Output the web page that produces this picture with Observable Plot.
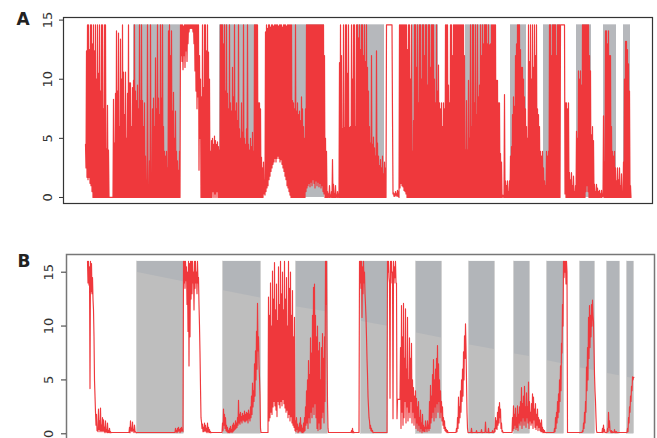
<!DOCTYPE html>
<html><head><meta charset="utf-8">
<script src="https://cdn.jsdelivr.net/npm/d3@7"></script>
<script src="https://cdn.jsdelivr.net/npm/@observablehq/plot@0.6"></script>
<style>
html,body{margin:0;padding:0;background:#fff;}
#wrap{position:relative;width:657px;height:438px;overflow:hidden;}
#pa,#pb{position:absolute;left:0;}
#pa{top:0px}
#pb{top:240px}
</style></head>
<body><div id="wrap"><div id="pa"></div><div id="pb"></div></div>
<script>
// y tick labels shared by both panels
const yTicks = [0, 5, 10, 15];
// shaded (gray) time windows, same in both panels (time index units)
const grayStart = [70, 156, 229, 294, 349, 402, 447, 480, 513, 540, 560];
const grayEnd   = [117, 194, 261, 321, 375, 428, 463, 497, 528, 553, 567];
// panel B: height of the lighter gray band at the start / end of each window
const lightTopStart = [15.0, 13.3, 11.8, 10.45, 9.37, 8.26, 7.42, 6.8, 6.12, 5.62, 5.25];
const lightTopEnd   = [14.1, 12.6, 11.3, 9.98, 8.9, 7.82, 7.17, 6.49, 5.87, 5.38, 5.13];

// panel A series: per time step [max, min] starting at aStart
const aStart = 22;
const aSpans = [
// 22
[4.5,2.5],[12.4,1.7],[14.6,1.5],[14.6,1.7],[12.5,1.2],[14.6,1],[14.6,.5],[13,0],[14.6,0],[12.4,0],
// 32
[14.6,0],[10,0],[14.6,0],[10.5,0],[14.6,0],[9,0],[14.6,0],[14.6,0],[7.5,0],[14.6,0],
// 42
[14.6,0],[4.1,0],[7.8,0],[4,0],[0,0],[0,0],[0,0],[0,0],[8.3,0],[4.6,0],
// 52
[8.8,0],[14.1,0],[9,0],[13.9,0],[6,0],[13.4,0],[10,0],[14.6,0],[10.6,0],[7,0],
// 62
[10.6,0],[5,0],[8.8,0],[14.6,0],[9.7,0],[9.7,0],[6,0],[9.3,0],[9.9,0],[14.6,0],
// 72
[9,0],[8.2,0],[9.5,0],[7.5,0],[14.6,0],[8.2,0],[14.6,0],[8.2,0],[6,0],[8,0],
// 82
[3.5,0],[1.5,0],[14.6,0],[1,0],[3.1,0],[14.6,0],[2,0],[7.5,0],[8.4,0],[6,0],
// 92
[11.8,0],[7.5,0],[14.6,0],[8.4,0],[7,0],[14.6,0],[8.4,0],[14.6,0],[6,0],[3.9,0],
// 102
[3.5,0],[3.9,0],[2.5,0],[14.1,0],[14.6,0],[12,0],[14.1,0],[7.3,0],[8.9,0],[5,0],
// 112
[7.3,0],[3.9,0],[3.1,0],[2.3,0],[3.9,0],[14.6,12],[14.6,11.5],[14.6,10.8],[14.5,12],[14.6,11],
// 122
[14.6,12.4],[14.6,11.5],[14.6,13],[14.6,14],[14.6,14.3],[14.6,14.3],[14.6,14.3],[14.6,14],[14.6,13],[14.6,10.7],
// 132
[14.6,9],[14.6,7.5],[14.6,8.5],[14.6,2.3],[12,5],[10,0],[8.5,0],[14.6,0],[9.3,0],[14.6,0],
// 142
[14.6,0],[12.4,0],[14.6,0],[12.3,0],[10,0],[3.9,0],[4.8,0],[5,.5],[4.5,0],[5.2,.3],
// 152
[4.8,0],[4.5,.5],[4.7,0],[4.3,0],[4,0],[14.6,0],[14.6,0],[14.6,0],[13,0],[14.6,0],
// 162
[9,0],[14.6,0],[8.8,0],[7.5,0],[14.6,0],[8,0],[7.3,0],[11,0],[8.5,0],[14.6,0],
// 172
[7.3,0],[8,0],[6.5,0],[14.6,0],[5.8,0],[5,0],[8,0],[5.5,0],[14.6,0],[5,0],
// 182
[4.5,0],[5.8,0],[14.6,0],[4.5,0],[4,0],[5,0],[4.3,0],[5.5,0],[3.9,0],[14.6,0],
// 192
[14.6,0],[14.6,0],[14.6,0],[8,0],[8,0],[7.5,0],[3.4,0],[2.5,0],[3,.3],[1.5,.2],
// 202
[14,.5],[14.6,.8],[14.3,1],[14.6,1.5],[14.6,1.8],[14.4,2.2],[14.6,2.5],[14.6,2.8],[14.5,3],[14.6,3.3],
// 212
[14.6,3],[14.6,3.3],[14.6,3.5],[14.5,3.3],[14.6,3],[14.6,3.2],[14.6,2.8],[14.4,2.5],[14.6,2.2],[14.6,1.8],
// 222
[14.6,1.5],[14.5,1],[14.6,.8],[14.6,.5],[14.6,.2],[14.6,0],[14.6,0],[8.2,0],[8,0],[7.5,0],
// 232
[14.6,0],[7.3,0],[8,0],[7,0],[7.3,0],[6.5,0],[8.5,0],[7.5,0],[6,0],[5,0],
// 242
[7.5,.5],[14.6,.8],[14.6,1],[14.6,1.2],[14.6,.9],[14.6,1.3],[14.6,1],[14.6,1.5],[14.6,1.2],[14.6,.8],
// 252
[14.6,1.4],[14.6,1],[14.6,1.3],[14.6,.9],[14.6,1.2],[14.6,.8],[14.6,1],[14.6,.5],[14.6,.3],[12,0],
// 262
[5,0],[3.9,0],[.5,0],[.3,0],[1,0],[.2,0],[.5,0],[3.2,0],[1.1,0],[.3,0],
// 272
[1,0],[.2,0],[.5,0],[.3,0],[11.4,0],[14.6,0],[12,0],[5.8,0],[14.6,0],[5.9,0],
// 282
[14.6,0],[14.6,0],[10.5,0],[14.6,0],[5.9,0],[6,0],[14.6,0],[10,0],[14.6,0],[14.6,0],
// 292
[6,0],[14.6,0],[14.6,0],[13.5,0],[14.6,0],[12.5,0],[14.6,0],[14.6,0],[12,0],[14.6,0],
// 302
[11.5,0],[14.6,0],[11,0],[9,0],[6,0],[4.6,0],[12,0],[4.5,0],[5.1,0],[4.2,0],
// 312
[3.5,0],[12.4,0],[4.6,0],[3.5,0],[2.7,0],[3.2,0],[2.5,0],[3.5,0],[2,0],[3,0],
// 322
[2.5,0],[14.6,14.6],[14.6,14.6],[14.6,14.6],[14.6,14.6],[14.6,14.6],[14.6,14.6],[6.8,.3],[.4,.1],[.3,.1],
// 332
[.5,.2],[.3,.1],[.6,.1],[.5,0],[14.6,.8],[14.6,1.2],[14.6,1],[14.6,.9],[14.6,.6],[14.6,.5],
// 342
[14.6,.3],[14.6,0],[12.5,0],[14.6,0],[14.6,0],[10,0],[14.6,0],[3.9,0],[6.5,0],[14.6,0],
// 352
[14.6,0],[11,0],[14.6,0],[8,0],[14.6,0],[14.6,0],[10,0],[14.6,0],[14.6,0],[12,0],
// 362
[14.6,0],[14.6,0],[9.5,0],[14.6,0],[14.6,0],[11,0],[14.6,0],[14.6,0],[14.6,0],[10,0],
// 372
[8,0],[14.6,0],[9,0],[11.2,0],[8,0],[7.5,0],[8,0],[6,0],[8,0],[7.5,0],
// 382
[14.6,0],[14.6,0],[14.6,0],[9.5,0],[8,0],[14.6,0],[14.6,0],[12,0],[14.6,0],[14.6,0],
// 392
[14.6,0],[14.6,0],[14.6,0],[14.6,0],[14.6,0],[14.6,0],[14.6,0],[14.6,0],[14.6,0],[12,0],
// 402
[4,0],[8.2,0],[4,0],[9.9,0],[5,0],[14.6,0],[6,0],[14.6,0],[14.6,0],[8,0],
// 412
[14.6,0],[7,0],[14.6,0],[8.5,0],[9.5,0],[14.6,0],[12,0],[14.6,0],[13,0],[14.6,0],
// 422
[14.6,0],[14.6,0],[13,0],[14.6,0],[12.9,0],[13,0],[14.6,0],[14.6,0],[14.6,0],[14.6,0],
// 432
[14.6,0],[9.9,0],[9.9,0],[8,0],[8,0],[3.7,0],[3,0],[.2,0],[.2,0],[8.7,0],
// 442
[1.4,0],[1,0],[1.4,0],[.5,0],[1.4,0],[3.5,0],[4.3,0],[7,0],[8.5,0],[7.7,0],
// 452
[12,0],[13,0],[14.6,0],[14.6,0],[14.6,0],[12.5,0],[11,0],[11,0],[10,0],[8.5,0],
// 462
[7.5,0],[6,0],[5,0],[14.6,0],[11.5,0],[14.6,0],[10,0],[14.6,0],[11,0],[14.6,0],
// 472
[12,0],[14.6,0],[7.5,0],[7,0],[6,0],[3.9,0],[3.5,0],[3.9,0],[2.5,0],[1.4,0],
// 482
[1,0],[3.9,0],[3.5,0],[3.9,0],[14.6,0],[14.6,0],[12,0],[14.6,0],[14.6,0],[14.6,0],
// 492
[14.6,0],[12,0],[14.6,0],[14.6,0],[14.6,0],[14.6,14.6],[14.6,14.6],[14.6,14.6],[14.6,14.6],[14.6,.3],
// 502
[8,0],[8,0],[7.5,0],[8,0],[2.1,0],[1.5,0],[2.1,0],[1,0],[1.8,0],[.5,0],
// 512
[1,0],[5.6,0],[5,0],[10.7,0],[10,0],[10.7,0],[9.5,0],[14.6,0],[14.6,0],[14.6,0],
// 522
[14.6,.5],[14.6,1],[14.6,.5],[14.6,0],[12,0],[10.7,0],[5.3,0],[6,0],[4.8,0],[1.1,0],
// 532
[.5,0],[1.1,0],[.8,0],[.5,0],[.6,0],[.3,0],[.6,0],[.3,.1],[6.9,0],[3,0],
// 542
[14.1,0],[14.1,0],[13,0],[14.1,0],[12,0],[12,0],[6,0],[3.9,0],[3.5,0],[3.9,0],
// 552
[2.5,0],[1.4,0],[2.5,0],[1.5,0],[2.5,0],[1,0],[2,0],[.5,0],[3,0],[10,0],
// 562
[13.2,0],[13.2,0],[12.5,0],[11.3,0],[9,0],[1,0]
];

// panel B series: [time, max, min]
const bSpans = [
[21,16,14],[22,16,13.8],[23,15.5,4.2],[24,16,13.2],[25,15.8,13],[26,14.5,12.5],[27,11.5,9],[28,5,3.5],[29,2,.8],
[30,1.8,.3],[31,.5,.2],[32,2.3,.4],[33,1.2,.2],[34,2.4,.3],[35,.8,.2],[36,1.5,.3],[37,1.3,.2],[38,.6,.1],[39,1.2,.2],
[40,.4,.1],[41,1,.1],[42,.3,.1],[43,.5,.1],[44,.2,.1],[45,.12,.12],[62,.12,.12],
[63,.6,.1],[64,1.2,.3],[65,.5,.2],[66,1.1,.3],[67,.4,.1],[68,.8,.2],[69,.2,.1],[70,.12,.12],[108,.12,.12],
[109,.5,.2],[110,.3,.1],[111,.5,.2],[112,.6,.3],[113,.4,.1],[114,.5,.2],[115,.6,.3],[116,.4,.2],
[117,16,14],[118,16,13.5],[119,16,14.2],[120,15.5,12],[121,15,9.5],[122,16,6.3],[123,15.8,9],[124,16,12.5],
[125,16,13],[126,16,14],[127,15,11.5],[128,16,13.5],[129,16,14],[130,15,13],[131,16,14],[132,14.5,12],[133,10,7.5],
[134,4.3,1.5],[135,1.1,.5],[136,.9,.2],[137,.6,.2],[138,1,.3],[139,.8,.2],[140,.5,.1],[141,1,.2],[142,.6,.1],
[143,.4,.1],[144,.2,.1],[145,.12,.12],[155,.12,.12],
[156,1,.3],[157,2.3,.8],[158,1.8,.5],[159,1.5,.3],[160,.8,.2],[161,.6,.1],[162,.3,.1],[163,.5,.1],[164,.7,.2],
[165,.4,.1],[166,.8,.2],[167,1,.3],[168,.8,.4],[169,1.2,.5],[170,1,.6],[171,1.5,.8],[172,3.1,1],[173,1.8,.9],
[174,2,1.2],[175,1.6,1],[176,1.9,1.3],[177,1.7,1.2],[178,2.1,1.1],[179,1.8,1.2],[180,2,1.3],[181,1.9,1],
[182,2.2,1.4],[183,1.8,1.2],[184,2.5,1.5],[185,3.5,1.8],[186,4.7,2.5],[187,4,3],[188,6.5,3.5],[189,7.7,5],
[190,9.5,6],[191,12.1,7.7],[192,9,6.5],[193,5.2,3.5],[194,.5,.12],[201,.12,.12],
[202,12.7,1.2],[203,11,1.5],[204,14,2],[205,10,1.8],[206,15.1,2.5],[207,12.5,3],[208,15.9,2.6],[209,11.5,2.2],
[210,13.9,1.6],[211,10.5,3],[212,15.5,2.7],[213,12,2.4],[214,16,3],[215,13,2.6],[216,15,3.2],[217,11.5,2.8],
[218,16,2.4],[219,12.5,2],[220,14.5,2.2],[221,10,1.5],[222,16,1.8],[223,13.5,1.2],[224,15,1.6],[225,11,1],
[226,13.3,.8],[227,9,.6],[228,10.8,.3],
[229,1.2,.2],[230,1.5,.4],[231,.9,.1],[232,.6,.2],[233,1,.3],[234,1.5,.2],[235,.8,.1],[236,.5,.1],[237,1,.2],[238,1.5,.3],
[239,2.5,.8],[240,4,1],[241,5,.5],[242,6.8,1.5],[243,5.5,1],[244,8.9,2],[245,7.5,1.5],[246,11,2.5],[247,13.6,1.8],
[248,13.9,2.8],[249,11,1.5],[250,9,.5],[251,10,.3],[252,7.7,1],[253,8.5,.4],[254,5,.5],[255,8,1.5],[256,9.3,2],
[257,7,1],[258,9,3],[259,16,12],[260,16,8],[261,3,.5],[262,.12,.12],[284,.12,.12],
[285,.3,.1],[286,.5,.1],[287,.2,.1],[288,.12,.12],[292,.12,.12],
[293,16,14],[294,16,13.5],[295,16,10.8],[296,15.5,13],[297,16,14],[298,15,13],[299,12,10.8],[300,9,7],[301,5.5,3.5],
[302,2.5,1.5],[303,1.2,.5],[304,.8,.3],[305,.5,.2],[306,.3,.1],[307,.12,.12],[320,.12,.12],
[321,16,15],[322,16,14.5],[323,14,3.3],[324,16,15],[325,16,14],[326,15,1.4],[327,16,14],[328,15.5,14.5],[329,16,14],
[330,14,1.4],[331,3.2,3.2],[332,3.2,3.2],[333,3.2,3.2],
[334,8,.5],[335,11.9,2],[336,9,.8],[337,12.1,1.5],[338,7,3],[339,11.6,1],[340,6,2.5],[341,10.8,1.2],[342,5,2],
[343,8.9,1.5],[344,7,3],[345,8.4,1],[346,5,2],[347,4.3,.8],[348,3.5,1.5],[349,4,.5],[350,3.3,1],[351,2.5,.3],
[352,3,.8],[353,1.5,.2],[354,2.2,.5],[355,1,.1],[356,1.8,.3],[357,.8,.2],[358,.6,.2],[359,1.2,.5],[360,.6,.2],
[361,1.2,.5],[362,.8,.3],[363,3,.5],[364,4.5,1],[365,3.5,1.5],[366,5.5,2],[367,6.9,1.2],[368,5,2.5],[369,6,1.5],
[370,7,2.8],[371,8.2,2],[372,6.5,3],[373,5,1.5],[374,4,2],[375,3,1.2],[376,2.5,.8],[377,1.5,.5],[378,1.2,.3],
[379,.6,.2],[380,.4,.1],[381,.3,.1],[382,.12,.12],[389,.12,.12],
[390,.5,.2],[391,1.5,.5],[392,3.4,1],[393,2.5,1.5],[394,4,2],[395,5,3],[396,6,3.5],[397,7.6,5],[398,9.1,7],
[399,10.2,8],[400,5,2],[401,.5,.12],[404,.12,.12],[405,.5,.1],[406,.12,.12],[409,.12,.12],[410,.3,.1],
[411,.12,.12],[414,.12,.12],[415,.4,.1],[416,.12,.12],[418,.12,.12],[419,1.1,.2],[420,.12,.12],[421,.12,.12],
[422,.5,.1],[423,.12,.12],[425,.12,.12],[426,.3,.1],[427,.12,.12],
[428,.5,.2],[429,1.5,.5],[430,1.2,.4],[431,2,.8],[432,2.5,1],[433,2.9,1.5],[434,2.3,.5],[435,1,.2],[436,.3,.1],
[437,.12,.12],[445,.12,.12],
[446,1.5,.3],[447,2.6,.5],[448,1.8,.8],[449,2.4,.4],[450,1.5,.6],[451,2.6,.3],[452,1.8,1],[453,2.5,.8],[454,3,1.2],
[455,4.3,.5],[456,2.8,1.5],[457,3.5,.8],[458,4.4,1.2],[459,2.5,.6],[460,3.8,1.5],[461,2.5,1],[462,4.8,.5],
[463,3,1.2],[464,2,.8],[465,2.8,1],[466,3.7,.5],[467,3.4,1.3],[468,2.3,.6],[469,2.8,.4],[470,1.8,.8],[471,2.3,.3],
[472,1.5,.6],[473,1.3,.3],[474,1,.2],[475,1.3,.2],[476,.6,.1],[477,.4,.1],[478,.3,.1],[479,.12,.12],[487,.12,.12],
[488,.5,.2],[489,1.5,.5],[490,2,1],[491,3,1.5],[492,3.7,2],[493,5,3],[494,6.3,4],[495,8.4,7.5],[496,12,10],
[497,16,14.5],[498,16,15],[499,16,13.9],[500,16,15],[501,.12,.12],[515,.12,.12],
[516,.3,.2],[517,1,.5],[518,2,1],[519,3,2],[520,6.2,4],[521,8,5],[522,10.8,7],[523,11.9,8],[524,11,9],[525,12,10],
[526,12.4,11],[527,10.4,8],[528,5.5,4],[529,3,1.5],[530,.3,.12],[535,.12,.12],
[536,.5,.1],[537,.8,.2],[538,.4,.1],[539,.12,.12],[540,.12,.12],[541,.5,.2],[542,2,.6],[543,1.2,.3],[544,.3,.1],
[545,.3,.1],[546,.2,.12],[547,.12,.12],[548,.4,.1],[549,.2,.12],[550,.2,.1],[551,.12,.12],[560,.12,.12],
[561,.5,.2],[562,1.5,1],[563,2.5,2],[564,3.5,3],[565,4.4,4],[566,5.3,5],[567,5.25,5.25]
];

const RED = "#ef383c";
const FONT = "DejaVu Sans, Liberation Sans, sans-serif";

const regions = grayStart.map((s, i) => ({x1: s, x2: grayEnd[i], l1: lightTopStart[i], l2: lightTopEnd[i], r: i}));
const aPts = aSpans.flatMap(([hi, lo], i) => [{t: aStart + i, v: hi}, {t: aStart + i + 0.5, v: lo}]);
const bPts = bSpans.flatMap(([u, hi, lo]) => [{t: u, v: hi}, {t: u + 0.5, v: lo}]);
const lightPts = regions.flatMap(d => [{t: d.x1, v: d.l1, r: d.r}, {t: d.x2, v: d.l2, r: d.r}]);

const plotA = Plot.plot({
  width: 657, height: 210,
  marginTop: 17, marginBottom: 7, marginLeft: 63, marginRight: 5,
  style: {fontFamily: FONT, fontSize: "13px", color: "#333", background: "transparent"},
  x: {domain: [0, 589], axis: null},
  y: {domain: [-0.51, 15.22], label: null},
  marks: [
    Plot.rect(regions, {x1: "x1", x2: "x2", y1: 0, y2: 14.6, fill: "#b6b8bc"}),
    Plot.line(aPts, {x: "t", y: "v", stroke: RED, strokeWidth: 1.2}),
    Plot.frame({stroke: "#333", strokeWidth: 1.2}),
    Plot.axisY({ticks: yTicks, tickRotate: -90, tickSize: 4, tickPadding: 8, label: null, fontSize: 13}),
    Plot.text(["A"], {text: d => d, frameAnchor: "top-left", dx: -47, dy: 2, fontSize: 17, fontWeight: "bold", textAnchor: "start", lineAnchor: "middle", fill: "#222"})
  ]
});
document.getElementById("pa").append(plotA);

const plotB = Plot.plot({
  width: 657, height: 205,
  marginTop: 14, marginBottom: 5, marginLeft: 66, marginRight: 3,
  style: {fontFamily: FONT, fontSize: "13px", color: "#333", background: "transparent"},
  x: {domain: [0, 588], axis: null},
  y: {domain: [-0.62, 16.64], label: null},
  marks: [
    Plot.rect(regions, {x1: "x1", x2: "x2", y1: 0, y2: 16, fill: "#b2b5b9"}),
    Plot.areaY(lightPts, {x: "t", y1: 0, y2: "v", z: "r", fill: "#bebebe"}),
    Plot.ruleX(regions, {x: "x1", y1: 0, y2: 16, stroke: "#d2d2d2", strokeWidth: 1}),
    Plot.ruleX(regions, {x: "x2", y1: 0, y2: 16, stroke: "#d2d2d2", strokeWidth: 1}),
    Plot.line(bPts, {x: "t", y: "v", stroke: RED, strokeWidth: 1.15}),
    Plot.frame({stroke: "#777", strokeWidth: 1.5}),
    Plot.axisY({ticks: yTicks, tickRotate: -90, tickSize: 5, tickPadding: 9, label: null, fontSize: 13}),
    Plot.text(["B"], {text: d => d, frameAnchor: "top-left", dx: -49, dy: 7, fontSize: 17, fontWeight: "bold", textAnchor: "start", lineAnchor: "middle", fill: "#222"})
  ]
});
document.getElementById("pb").append(plotB);
</script>
</body></html>
